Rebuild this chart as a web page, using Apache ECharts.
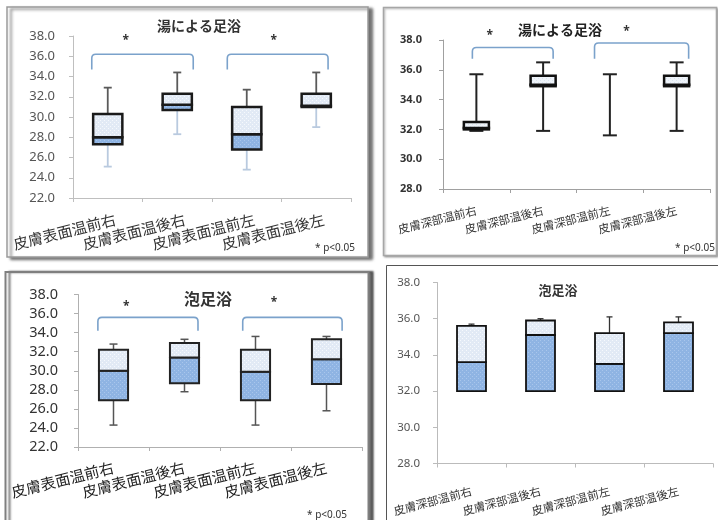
<!DOCTYPE html>
<html>
<head>
<meta charset="utf-8">
<script src="https://cdn.jsdelivr.net/npm/echarts@6/dist/echarts.min.js"></script>
<style>
  html, body { margin: 0; padding: 0; background: #fff; }
  #chart { width: 718px; height: 520px; }
</style>
</head>
<body>
<div id="chart"></div>
<script>
// Category labels
const surfaceLabels = ['皮膚表面温前右', '皮膚表面温後右', '皮膚表面温前左', '皮膚表面温後左'];
const deepLabels = ['皮膚深部温前右', '皮膚深部温後右', '皮膚深部温前左', '皮膚深部温後左'];

// Panel titles
const titleYu = '湯による足浴';
const titleAwa = '泡足浴';
const noteText = '* p<0.05';

// Box statistics per category: [min, Q1, median, Q3, max] (°C)
const yuSurface = [
  [25.1, 27.3, 28.0, 30.3, 32.9],
  [28.3, 30.7, 31.2, 32.3, 34.4],
  [24.8, 26.8, 28.3, 31.0, 32.7],
  [29.0, 31.0, 31.1, 32.3, 34.4]
];
const yuDeep = [
  [31.9, 32.0, 32.1, 32.5, 35.7],
  [31.9, 34.9, 35.0, 35.6, 36.5],
  [31.6, null, null, null, 35.7],
  [31.9, 34.9, 35.0, 35.6, 36.5]
];
const awaSurface = [
  [24.3, 26.9, 30.0, 32.2, 32.8],
  [27.8, 28.7, 31.4, 32.9, 33.3],
  [24.3, 26.9, 29.9, 32.2, 33.6],
  [25.8, 28.6, 31.2, 33.3, 33.6]
];
const awaDeep = [
  [null, 32.0, 33.6, 35.6, 35.7],
  [null, 32.0, 35.1, 35.9, 36.0],
  [null, 32.0, 33.5, 35.2, 36.1],
  [null, 32.0, 35.2, 35.8, 36.1]
];

// Significant pairs (category indices)
const yuSurfacePairs = [[0, 1], [2, 3]];
const yuDeepPairs = [[0, 1], [2, 3]];
const awaSurfacePairs = [[0, 1], [2, 3]];

// Y axis ranges: [min, max, step]
const surfaceRange = [22, 38, 2];
const deepRange = [28, 38, 2];

const FONT = '"Noto Sans CJK JP", "Noto Sans", sans-serif';
const NUMFONT = '"Noto Sans", "Liberation Sans", sans-serif';

function dotPattern(base, dot) {
  const c = document.createElement('canvas');
  c.width = 4; c.height = 4;
  const g = c.getContext('2d');
  g.fillStyle = base; g.fillRect(0, 0, 4, 4);
  g.fillStyle = dot;
  g.fillRect(0, 0, 1, 1);
  g.fillRect(2, 2, 1, 1);
  return { image: c, repeat: 'repeat' };
}

function boxSeries(gi, stats, st) {
  return {
    type: 'custom',
    xAxisIndex: gi,
    yAxisIndex: gi,
    data: stats.map((s, i) => [i, s[4]]),
    renderItem: function (params, api) {
      const i = params.dataIndex;
      const [lo, q1, med, q3, hi] = stats[i];
      const x = api.coord([i, hi])[0];
      const y = v => api.coord([i, v])[1];
      const half = api.size([1, 0])[0] * st.box / 2;
      const cap = st.cap / 2;
      const kids = [];
      const wl = (y1, y2, color) => {
        kids.push({ type: 'line', shape: { x1: x, y1: y1, x2: x, y2: y2 },
          style: { stroke: color, lineWidth: st.whiskerWidth } });
        kids.push({ type: 'line', shape: { x1: x - cap, y1: y2, x2: x + cap, y2: y2 },
          style: { stroke: color, lineWidth: st.whiskerWidth } });
      };
      if (q1 == null) {
        wl(y(lo), y(hi), st.upperWhisker);
        kids.push({ type: 'line', shape: { x1: x - cap, y1: y(lo), x2: x + cap, y2: y(lo) },
          style: { stroke: st.upperWhisker, lineWidth: st.whiskerWidth } });
      } else {
        if (hi != null) wl(y(q3), y(hi), st.upperWhisker);
        if (lo != null) wl(y(q1), y(lo), st.lowerWhisker);
        kids.push({ type: 'rect',
          shape: { x: x - half, y: y(med), width: half * 2, height: y(q1) - y(med) },
          style: { fill: st.lowerFill, stroke: st.border, lineWidth: st.borderWidth } });
        kids.push({ type: 'rect',
          shape: { x: x - half, y: y(q3), width: half * 2, height: y(med) - y(q3) },
          style: { fill: st.upperFill, stroke: st.border, lineWidth: st.borderWidth } });
      }
      return { type: 'group', children: kids };
    },
    z: 3
  };
}

// Significance brackets; layout entries: [startOffset, endOffset, legValue, topValue, starOffset, starValue]
function bracketSeries(gi, pairs, layout) {
  return {
    type: 'custom',
    xAxisIndex: gi,
    yAxisIndex: gi,
    data: pairs.map((p, k) => [p[0], layout[k][3]]),
    renderItem: function (params, api) {
      const k = params.dataIndex;
      const [a, b] = pairs[k];
      const [s0, s1, legV, topV, so, starV] = layout[k];
      const c0 = api.coord([0, topV]);
      const w = api.size([1, 0])[0];
      const px = f => c0[0] + f * w;
      const x0 = px(a + s0), x1 = px(b + s1);
      const yt = api.coord([a, topV])[1];
      const yl = api.coord([a, legV])[1];
      const r = 4;
      const d = `M${x0} ${yl} L${x0} ${yt + r} Q${x0} ${yt} ${x0 + r} ${yt} L${x1 - r} ${yt} Q${x1} ${yt} ${x1} ${yt + r} L${x1} ${yl}`;
      return { type: 'group', children: [
        { type: 'path', shape: { pathData: d },
          style: { fill: 'none', stroke: '#7ba2cb', lineWidth: 1.6 } },
        { type: 'text', x: px(a + so), y: api.coord([a, starV])[1],
          style: { text: '*', fill: '#333', font: 'bold 12px ' + NUMFONT, align: 'center', verticalAlign: 'middle' } }
      ] };
    },
    z: 2
  };
}

function xAxisFor(gi, cats, o) {
  return {
    gridIndex: gi, type: 'category', data: cats,
    axisLine: { lineStyle: { color: o.axis, width: 1 } },
    axisTick: { show: true, length: 4, lineStyle: { color: o.axis } },
    splitLine: { show: false },
    axisLabel: { interval: 0, rotate: o.rotate, margin: o.margin, fontSize: o.font,
      color: o.color, fontFamily: FONT, padding: o.padding || 0 }
  };
}
function yAxisFor(gi, range, o) {
  return {
    gridIndex: gi, type: 'value', min: range[0], max: range[1], interval: range[2],
    axisLine: { show: true, lineStyle: { color: o.axis, width: 1 } },
    axisTick: { show: true, length: 4, lineStyle: { color: o.axis } },
    splitLine: { show: false },
    axisLabel: { formatter: v => v.toFixed(1), fontSize: o.font, color: o.color,
      margin: o.margin, fontFamily: NUMFONT, fontWeight: o.weight || 'normal' }
  };
}

const lightFill = dotPattern('#e2eaf5', '#f6f9fd');
const blueFill = dotPattern('#8fb4e3', '#a9c6ec');
const paleFill = dotPattern('#eef3f9', '#d9e3ef');

const frames = [
  { type: 'rect', shape: { x: 7, y: 7, width: 361, height: 250 },
    style: { fill: '#fff', stroke: '#9a9a9a', lineWidth: 1.5, shadowBlur: 3, shadowOffsetX: 4, shadowOffsetY: 2, shadowColor: 'rgba(0,0,0,0.55)' }, z: -10 },
  { type: 'rect', shape: { x: 383.5, y: 7.5, width: 333, height: 248 },
    style: { fill: '#fff', stroke: '#a6a6a6', lineWidth: 1.5, shadowBlur: 2, shadowOffsetX: 1, shadowOffsetY: 1, shadowColor: 'rgba(0,0,0,0.3)' }, z: -10 },
  { type: 'rect', shape: { x: 5.5, y: 272, width: 363, height: 256 },
    style: { fill: '#fff', stroke: '#7f7f7f', lineWidth: 2, shadowBlur: 2, shadowOffsetX: 4, shadowOffsetY: 0, shadowColor: 'rgba(0,0,0,0.55)' }, z: -10 },
  { type: 'rect', shape: { x: 386.5, y: 265.5, width: 340, height: 262 },
    style: { fill: '#fff', stroke: '#555', lineWidth: 1 }, z: -10 }
];

const texts = [
  { type: 'text', x: 199, y: 26, style: { text: titleYu, font: 'bold 14px ' + FONT, fill: '#333', align: 'center', verticalAlign: 'middle' } },
  { type: 'text', x: 560, y: 30, style: { text: titleYu, font: 'bold 14px ' + FONT, fill: '#222', align: 'center', verticalAlign: 'middle' } },
  { type: 'text', x: 208, y: 299, style: { text: titleAwa, font: 'bold 16px ' + FONT, fill: '#333', align: 'center', verticalAlign: 'middle' } },
  { type: 'text', x: 558, y: 290, style: { text: titleAwa, font: 'bold 13px ' + FONT, fill: '#333', align: 'center', verticalAlign: 'middle' } },
  { type: 'text', x: 335, y: 248, style: { text: noteText, font: '10px ' + NUMFONT, fill: '#333', align: 'center', verticalAlign: 'middle' } },
  { type: 'text', x: 695, y: 248, style: { text: noteText, font: '10px ' + NUMFONT, fill: '#333', align: 'center', verticalAlign: 'middle' } },
  { type: 'text', x: 327, y: 515, style: { text: noteText, font: '10px ' + NUMFONT, fill: '#333', align: 'center', verticalAlign: 'middle' } }
];

const chart = echarts.init(document.getElementById('chart'), null, { renderer: 'canvas' });
chart.setOption({
  animation: false,
  backgroundColor: '#fff',
  graphic: { elements: frames.concat(texts) },
  grid: [
    { left: 73, top: 36, width: 278, height: 162 },
    { left: 443, top: 40, width: 267, height: 149 },
    { left: 78, top: 294.5, width: 284, height: 152.5 },
    { left: 437, top: 282.5, width: 276, height: 181 }
  ],
  xAxis: [
    xAxisFor(0, surfaceLabels, { axis: '#bfbfbf', rotate: 14, margin: 23, font: 15, color: '#333', padding: [0, -8, 0, 0] }),
    xAxisFor(1, deepLabels, { axis: '#a0a0a0', rotate: 14, margin: 21, font: 11.5, color: '#333' }),
    xAxisFor(2, surfaceLabels, { axis: '#b0b0b0', rotate: 14, margin: 20, font: 15, color: '#222' }),
    xAxisFor(3, deepLabels, { axis: '#bbbbbb', rotate: 15, margin: 27, font: 11.5, color: '#333' })
  ],
  yAxis: [
    yAxisFor(0, surfaceRange, { axis: '#bfbfbf', font: 13, color: '#555', margin: 18 }),
    yAxisFor(1, deepRange, { axis: '#a0a0a0', font: 11, color: '#333', margin: 21, weight: 'bold' }),
    yAxisFor(2, surfaceRange, { axis: '#b0b0b0', font: 14.5, color: '#333', margin: 20 }),
    yAxisFor(3, deepRange, { axis: '#bbbbbb', font: 11.5, color: '#555', margin: 17 })
  ],
  series: [
    boxSeries(0, yuSurface, { box: 0.42, cap: 8, whiskerWidth: 1.8, upperWhisker: '#5a5a5a', lowerWhisker: '#b9cadf',
      border: '#1a1a1a', borderWidth: 2.5, upperFill: lightFill, lowerFill: blueFill }),
    bracketSeries(0, yuSurfacePairs, [[-0.23, 0.23, 34.7, 36.2, 0.26, 37.5], [-0.28, 0.17, 34.7, 36.2, 0.39, 37.5]]),
    boxSeries(1, yuDeep, { box: 0.375, cap: 14, whiskerWidth: 2, upperWhisker: '#222', lowerWhisker: '#222',
      border: '#111', borderWidth: 2.5, upperFill: paleFill, lowerFill: paleFill }),
    bracketSeries(1, yuDeepPairs, [[-0.06, 0.15, 36.75, 37.5, 0.2, 38.3], [-0.23, 0.18, 36.75, 37.8, 0.25, 38.55]]),
    boxSeries(2, awaSurface, { box: 0.41, cap: 8, whiskerWidth: 1.5, upperWhisker: '#555', lowerWhisker: '#555',
      border: '#222', borderWidth: 2, upperFill: lightFill, lowerFill: blueFill }),
    bracketSeries(2, awaSurfacePairs, [[-0.22, 0.19, 34.2, 35.6, 0.18, 36.75], [-0.18, 0.22, 34.2, 35.6, 0.26, 37.2]]),
    boxSeries(3, awaDeep, { box: 0.42, cap: 6, whiskerWidth: 1.3, upperWhisker: '#333', lowerWhisker: '#333',
      border: '#111', borderWidth: 1.8, upperFill: lightFill, lowerFill: blueFill })
  ]
});
</script>
</body>
</html>
